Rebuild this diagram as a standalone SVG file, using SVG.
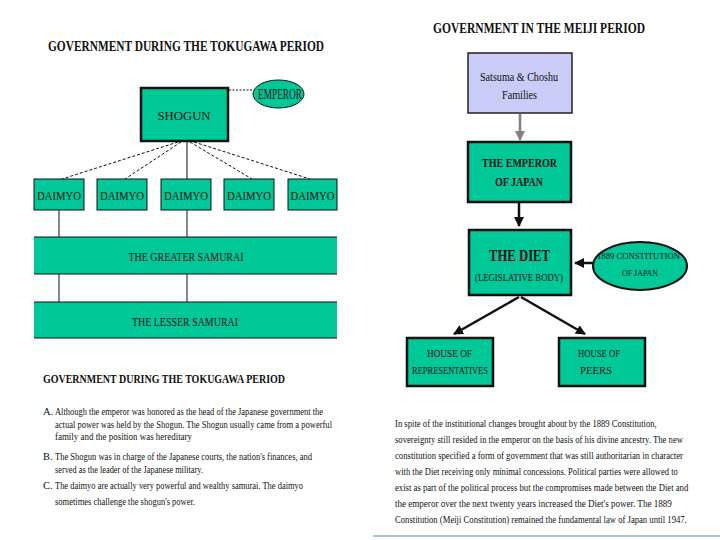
<svg xmlns="http://www.w3.org/2000/svg" width="720" height="540" viewBox="0 0 720 540">
<style>
.bg{fill:#ffffff}
.g{fill:#00c898;stroke:#111;stroke-width:1}
.gt{fill:#00c898;stroke:#111;stroke-width:2.5}
.band{fill:#00c898}
.bl{stroke:#111;stroke-width:1.2}
.lav{fill:#cbcbf7;stroke:#222;stroke-width:1.5}
.t{font-family:"Liberation Serif","Times New Roman",serif;fill:#111;text-anchor:middle}
.h{font-family:"Liberation Serif","Times New Roman",serif;font-weight:bold;fill:#111}
.p{font-family:"Liberation Serif","Times New Roman",serif;fill:#111;font-size:10.5px}
.b{font-weight:bold}
.c{fill:none;stroke:#111;stroke-width:1}
.ca{fill:none;stroke:#111;stroke-width:2.5}
</style>
<defs>
<marker id="ab" viewBox="0 0 10 10" refX="9" refY="5" markerWidth="4" markerHeight="4" orient="auto"><path d="M0,0 L10,5 L0,10 z" fill="#111"/></marker>
<marker id="ag" viewBox="0 0 10 10" refX="9" refY="5" markerWidth="4" markerHeight="4" orient="auto"><path d="M0,0 L10,5 L0,10 z" fill="#808080"/></marker>
</defs>
<rect class="bg" x="0" y="0" width="720" height="540"/>

<text class="h" x="48" y="51" font-size="14" textLength="276" lengthAdjust="spacingAndGlyphs">GOVERNMENT DURING THE TOKUGAWA PERIOD</text>
<text class="h" x="433" y="33" font-size="14" textLength="212" lengthAdjust="spacingAndGlyphs">GOVERNMENT IN THE MEIJI PERIOD</text>

<g id="connectors">
  <line class="c" x1="229" y1="90" x2="253" y2="90" stroke-dasharray="2,1.5"/>
  <line class="c" x1="178" y1="142" x2="62" y2="179" stroke-dasharray="3,2"/>
  <line class="c" x1="181" y1="142" x2="125" y2="179" stroke-dasharray="3,2"/>
  <line class="c" x1="187" y1="142" x2="187" y2="179"/>
  <line class="c" x1="190" y1="142" x2="252" y2="179" stroke-dasharray="3,2"/>
  <line class="c" x1="194" y1="142" x2="310" y2="179" stroke-dasharray="3,2"/>
  <line class="c" x1="59" y1="210" x2="59" y2="237"/>
  <line class="c" x1="187" y1="210" x2="187" y2="237"/>
  <line class="c" x1="59" y1="274" x2="59" y2="302"/>
  <line class="c" x1="187" y1="274" x2="187" y2="302"/>
  <line x1="520" y1="114" x2="520" y2="140" stroke="#808080" stroke-width="2.5" marker-end="url(#ag)"/>
  <line class="ca" x1="519" y1="203" x2="519" y2="226" marker-end="url(#ab)"/>
  <line class="ca" x1="593" y1="263" x2="575" y2="263" marker-end="url(#ab)"/>
  <line class="ca" x1="519" y1="297" x2="454" y2="334" marker-end="url(#ab)"/>
  <line class="ca" x1="521" y1="297" x2="585" y2="334" marker-end="url(#ab)"/>
</g>

<g id="shogun">
  <rect class="gt" x="141" y="88" width="87" height="53"/>
  <text class="t" x="184" y="120" font-size="13" textLength="53" lengthAdjust="spacingAndGlyphs">SHOGUN</text>
</g>
<g id="emperor">
  <ellipse class="g" cx="278.5" cy="94" rx="25.5" ry="14"/>
  <text class="t" x="280" y="99" font-size="15" textLength="44" lengthAdjust="spacingAndGlyphs">EMPEROR</text>
</g>
<g id="daimyo1">
  <rect class="g" x="34" y="179" width="50" height="31"/>
  <text class="t" x="59" y="200" font-size="12" textLength="44" lengthAdjust="spacingAndGlyphs">DAIMYO</text>
</g>
<g id="daimyo2">
  <rect class="g" x="97" y="179" width="50" height="31"/>
  <text class="t" x="122" y="200" font-size="12" textLength="44" lengthAdjust="spacingAndGlyphs">DAIMYO</text>
</g>
<g id="daimyo3">
  <rect class="g" x="161" y="179" width="50" height="31"/>
  <text class="t" x="186" y="200" font-size="12" textLength="44" lengthAdjust="spacingAndGlyphs">DAIMYO</text>
</g>
<g id="daimyo4">
  <rect class="g" x="224" y="179" width="50" height="31"/>
  <text class="t" x="249" y="200" font-size="12" textLength="44" lengthAdjust="spacingAndGlyphs">DAIMYO</text>
</g>
<g id="daimyo5">
  <rect class="g" x="288" y="179" width="49" height="31"/>
  <text class="t" x="312.5" y="200" font-size="12" textLength="44" lengthAdjust="spacingAndGlyphs">DAIMYO</text>
</g>
<g id="greater-samurai">
  <rect class="band" x="34" y="237" width="303" height="37"/>
  <line class="bl" x1="34" y1="237" x2="337" y2="237"/>
  <line class="bl" x1="34" y1="274" x2="337" y2="274"/>
  <text class="t" x="186" y="261" font-size="12" textLength="115" lengthAdjust="spacingAndGlyphs">THE GREATER SAMURAI</text>
</g>
<g id="lesser-samurai">
  <rect class="band" x="34" y="302" width="303" height="36"/>
  <line class="bl" x1="34" y1="302" x2="337" y2="302"/>
  <line class="bl" x1="34" y1="338" x2="337" y2="338"/>
  <text class="t" x="185" y="326" font-size="12" textLength="106" lengthAdjust="spacingAndGlyphs">THE LESSER SAMURAI</text>
</g>

<g id="tokugawa-notes">
  <text class="h" x="43" y="383" font-size="13" textLength="242" lengthAdjust="spacingAndGlyphs">GOVERNMENT DURING THE TOKUGAWA PERIOD</text>
  <text class="p" x="43" y="415">A.</text>
  <text class="p" x="55" y="415" textLength="268" lengthAdjust="spacingAndGlyphs">Although the emperor was honored as the head of the Japanese government the</text>
  <text class="p" x="55" y="428" textLength="277" lengthAdjust="spacingAndGlyphs">actual power was held by the Shogun. The Shogun usually came from a powerful</text>
  <text class="p" x="55" y="440" textLength="137" lengthAdjust="spacingAndGlyphs">family and the position was hereditary</text>
  <text class="p" x="43" y="460">B.</text>
  <text class="p" x="55" y="460" textLength="257" lengthAdjust="spacingAndGlyphs">The Shogun was in charge of the Japanese courts, the nation's finances, and</text>
  <text class="p" x="55" y="473" textLength="148" lengthAdjust="spacingAndGlyphs">served as the leader of the Japanese military.</text>
  <text class="p" x="43" y="489">C.</text>
  <text class="p" x="55" y="489" textLength="248" lengthAdjust="spacingAndGlyphs">The daimyo are actually very powerful and wealthy samurai. The daimyo</text>
  <text class="p" x="55" y="505" textLength="140" lengthAdjust="spacingAndGlyphs">sometimes challenge the shogun's power.</text>
</g>

<g id="satsuma-choshu">
  <rect class="lav" x="468" y="53" width="104" height="60"/>
  <text class="t" x="519" y="81" font-size="12" textLength="78" lengthAdjust="spacingAndGlyphs">Satsuma &amp; Choshu</text>
  <text class="t" x="519.5" y="99" font-size="12" textLength="35" lengthAdjust="spacingAndGlyphs">Families</text>
</g>
<g id="emperor-of-japan">
  <rect class="gt" x="468" y="142" width="103" height="60"/>
  <text class="t b" x="519.5" y="167" font-size="12" textLength="75" lengthAdjust="spacingAndGlyphs">THE EMPEROR</text>
  <text class="t b" x="519" y="186" font-size="12" textLength="48" lengthAdjust="spacingAndGlyphs">OF JAPAN</text>
</g>
<g id="the-diet">
  <rect class="gt" x="469" y="230" width="102" height="65"/>
  <text class="t b" x="519.5" y="261" font-size="17" textLength="61" lengthAdjust="spacingAndGlyphs">THE DIET</text>
  <text class="t" x="519" y="281" font-size="11" textLength="88" lengthAdjust="spacingAndGlyphs">(LEGISLATIVE BODY)</text>
</g>
<g id="constitution-1889">
  <ellipse class="gt" cx="640" cy="266" rx="47" ry="24" style="stroke-width:2"/>
  <text class="t" x="638.5" y="259" font-size="9" textLength="83" lengthAdjust="spacingAndGlyphs">1889 CONSTITUTION</text>
  <text class="t" x="640" y="276" font-size="9" textLength="36" lengthAdjust="spacingAndGlyphs">OF JAPAN</text>
</g>
<g id="house-of-representatives">
  <rect class="gt" x="407" y="338" width="86" height="48"/>
  <text class="t" x="449.5" y="357" font-size="10" textLength="45" lengthAdjust="spacingAndGlyphs">HOUSE OF</text>
  <text class="t" x="450" y="374" font-size="10" textLength="76" lengthAdjust="spacingAndGlyphs">REPRESENTATIVES</text>
</g>
<g id="house-of-peers">
  <rect class="gt" x="559" y="338" width="86" height="48"/>
  <text class="t" x="599" y="357" font-size="10" textLength="42" lengthAdjust="spacingAndGlyphs">HOUSE OF</text>
  <text class="t" x="596" y="374" font-size="10" textLength="32" lengthAdjust="spacingAndGlyphs">PEERS</text>
</g>

<g id="meiji-notes" transform="translate(395,0) scale(0.75,1)">
  <text class="p" x="0" y="427" font-size="11" textLength="349" lengthAdjust="spacingAndGlyphs">In spite of the institutional changes brought about by the 1889 Constitution,</text>
  <text class="p" x="0" y="443" font-size="11" textLength="384" lengthAdjust="spacingAndGlyphs">sovereignty still resided in the emperor on the basis of his divine ancestry. The new</text>
  <text class="p" x="0" y="459" font-size="11" textLength="384" lengthAdjust="spacingAndGlyphs">constitution specified a form of government that was still authoritarian in character</text>
  <text class="p" x="0" y="475" font-size="11" textLength="377" lengthAdjust="spacingAndGlyphs">with the Diet receiving only minimal concessions. Political parties were allowed to</text>
  <text class="p" x="0" y="491" font-size="11" textLength="391" lengthAdjust="spacingAndGlyphs">exist as part of the political process but the compromises made between the Diet and</text>
  <text class="p" x="0" y="507" font-size="11" textLength="369" lengthAdjust="spacingAndGlyphs">the emperor over the next twenty years increased the Diet's power. The 1889</text>
  <text class="p" x="0" y="523" font-size="11" textLength="389" lengthAdjust="spacingAndGlyphs">Constitution (Meiji Constitution) remained the fundamental law of Japan until 1947.</text>
</g>

<line x1="373" y1="536" x2="720" y2="536" stroke="#a3c6d0" stroke-width="2"/>
</svg>
